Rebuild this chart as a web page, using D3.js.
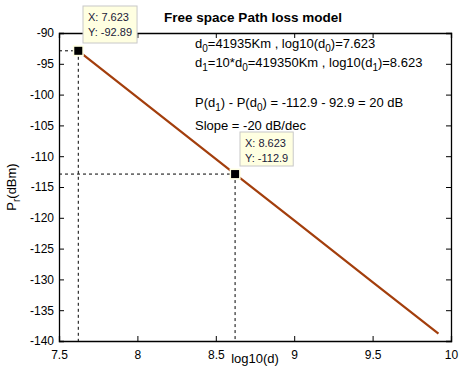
<!DOCTYPE html>
<html><head><meta charset="utf-8">
<script src="https://cdn.jsdelivr.net/npm/d3@7"></script>
<style>body{margin:0;background:#fff;} svg{display:block;font-family:"Liberation Sans",Arial,sans-serif;}</style>
</head><body>
<svg id="c" width="466" height="368"></svg>
<script>
const logD = [7.623, 8.623, 9.0, 9.5, 9.92];
const prDbm = [-92.89, -112.9, -120.43, -130.43, -138.8];
const xTicks = [7.5, 8, 8.5, 9, 9.5, 10];
const yTicks = [-140, -135, -130, -125, -120, -115, -110, -105, -100, -95, -90];
const tipX = [7.623, 8.623];
const tipY = [-92.89, -112.9];
const tipXLabels = ["X: 7.623", "X: 8.623"];
const tipYLabels = ["Y: -92.89", "Y: -112.9"];
const title = "Free space Path loss model";

const svg = d3.select("#c");
const L = 59, R = 451, T = 33, B = 341;
const x = d3.scaleLinear().domain([7.5, 10]).range([L, R]);
const y = d3.scaleLinear().domain([-140, -90]).range([B, T]);

svg.append("rect").attr("width",466).attr("height",368).attr("fill","#fff");

const gx = svg.append("g").attr("transform",`translate(0,${B})`)
  .call(d3.axisBottom(x).tickValues(xTicks).tickSize(-5).tickPadding(9).tickFormat(d => String(d)));
const gxT = svg.append("g").attr("transform",`translate(0,${T})`)
  .call(d3.axisTop(x).tickValues(xTicks).tickSize(-5).tickFormat(""));
const gy = svg.append("g").attr("transform",`translate(${L},0)`)
  .call(d3.axisLeft(y).tickValues(yTicks).tickSize(-5).tickPadding(8).tickFormat(d => String(d)));
const gyR = svg.append("g").attr("transform",`translate(${R},0)`)
  .call(d3.axisRight(y).tickValues(yTicks).tickSize(-5).tickFormat(""));
[gx,gxT,gy,gyR].forEach(g => {
  g.selectAll("path").attr("stroke","#000").attr("stroke-width",1.3);
  g.selectAll("line").attr("stroke","#000");
  g.selectAll("text").attr("fill","#000").attr("font-size",12).attr("font-family","Liberation Sans, Arial, sans-serif");
});
gy.selectAll("text").attr("dx", 3);

tipX.forEach((tx,i) => {
  svg.append("line").attr("x1",L).attr("x2",x(tx)).attr("y1",y(tipY[i])).attr("y2",y(tipY[i]))
    .attr("stroke","#000").attr("stroke-dasharray","3,3").attr("stroke-width",1);
  svg.append("line").attr("x1",x(tx)).attr("x2",x(tx)).attr("y1",y(tipY[i])).attr("y2",B)
    .attr("stroke","#000").attr("stroke-dasharray","3,3").attr("stroke-width",1);
});

const line = d3.line().x((d,i)=>x(logD[i])).y((d,i)=>y(prDbm[i]));
svg.append("path").datum(logD).attr("d",line).attr("fill","none")
  .attr("stroke","#a33e0c").attr("stroke-width",2.2);

tipX.forEach((tx,i) => {
  svg.append("rect").attr("x",x(tx)-5.5).attr("y",y(tipY[i])-5.5).attr("width",11).attr("height",11)
    .attr("fill","#ffffe1");
  svg.append("rect").attr("x",x(tx)-4).attr("y",y(tipY[i])-4).attr("width",8).attr("height",8)
    .attr("fill","#000");
});

const boxes = [{bx:83, by:6, w:56, h:37}, {bx:240, by:132, w:38, h:34}];
tipX.forEach((tx,i) => {
  const b = boxes[i];
  const g = svg.append("g");
  const t1 = g.append("text").attr("x",b.bx+5).attr("y",b.by+15).text(tipXLabels[i]);
  const t2 = g.append("text").attr("x",b.bx+5).attr("y",b.by+30).text(tipYLabels[i]);
  g.selectAll("text").attr("font-size",11).attr("fill","#1a1a3a");
  const w = Math.max(t1.node().getComputedTextLength(), t2.node().getComputedTextLength()) + 10;
  g.insert("rect","text").attr("x",b.bx).attr("y",b.by).attr("width",w).attr("height",b.h)
    .attr("fill","#ffffe1").attr("stroke","#c8c8c8").attr("stroke-width",1);
});

svg.append("text").attr("x",253).attr("y",22).attr("text-anchor","middle")
  .attr("font-size",13.5).attr("font-weight","bold").text(title);

svg.append("text").attr("x",255).attr("y",363).attr("text-anchor","middle").attr("font-size",13).text("log10(d)");
const yl = svg.append("text").attr("transform","translate(16,187) rotate(-90)").attr("text-anchor","middle").attr("font-size",13);
yl.append("tspan").text("P");
yl.append("tspan").attr("font-size",10).attr("dy",4).text("r");
yl.append("tspan").attr("dy",-4).text("(dBm)");

function ann(yy, parts) {
  const t = svg.append("text").attr("x",195).attr("y",yy).attr("font-size",13);
  let shift = 0;
  parts.forEach(p => {
    if (typeof p === "string") { t.append("tspan").attr("dy", -shift).text(p); shift = 0; }
    else { t.append("tspan").attr("dy",4).attr("font-size",10).text(p.sub); shift = 4; }
  });
}
ann(48, ["d", {sub:"0"}, "=41935Km , log10(d", {sub:"0"}, ")=7.623"]);
ann(67, ["d", {sub:"1"}, "=10*d", {sub:"0"}, "=419350Km , log10(d", {sub:"1"}, ")=8.623"]);
ann(107, ["P(d", {sub:"1"}, ") - P(d", {sub:"0"}, ") = -112.9 - 92.9 = 20 dB"]);
ann(130, ["Slope = -20 dB/dec"]);
</script>
</body></html>
